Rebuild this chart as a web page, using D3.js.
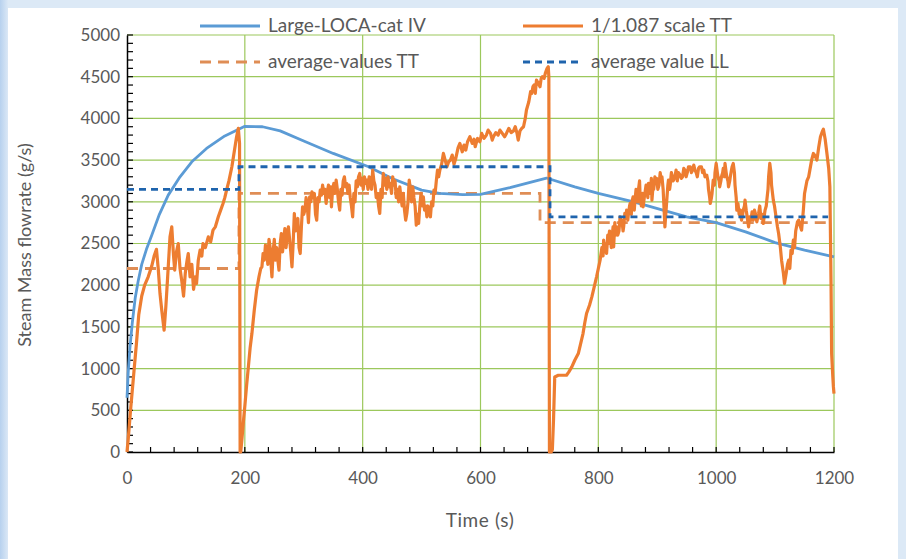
<!DOCTYPE html>
<html>
<head>
<meta charset="utf-8">
<script src="https://cdn.jsdelivr.net/npm/d3@7"></script>
<style>
  body { margin: 0; background: #dce9f6; }
  svg { display: block; }
  text { font-family: Lato, "Open Sans", sans-serif; fill: #595959; }
</style>
</head>
<body>
<svg id="chart" width="906" height="559"></svg>
<script>
// Large-LOCA-cat IV (blue solid)
var llTime = [0,2,5,9,14,19,25,33,42,55,70,90,110,135,166,200,230,260,300,350,410,450,500,530,570,600,650,712,760,800,860,950,1000,1050,1100,1150,1200];
var llFlow = [650,950,1250,1550,1850,2050,2250,2430,2600,2850,3080,3300,3480,3640,3790,3905,3900,3850,3730,3580,3420,3280,3140,3100,3085,3090,3170,3285,3180,3100,3000,2820,2750,2640,2510,2420,2340];

// 1/1.087 scale TT (orange solid), read in three runs between the drops to zero
var ttTimeA = [0,2,6,11,16,20,25,30,36,42,46,50,53,56,59,63,66,69,73,76,79,81,84,87,90,93,96,99,102,104,107,110,113,116,118,121,124,127,129,133,138,142,146,150,155,159,163,166,169,173,178,182,186,189,191,192];
var ttFlowA = [0,150,500,900,1300,1650,1870,2000,2100,2230,2350,2430,2200,1900,1700,1460,1750,2100,2580,2700,2350,2180,2400,2500,2200,2050,1870,2150,2300,2380,2100,2250,1950,2100,2020,2300,2420,2350,2500,2450,2580,2520,2660,2700,2820,2900,2980,3050,3140,3250,3420,3600,3780,3880,3700,0];

var ttTimeB = [193,195,198,200,203,206,209,212,216,220,
  224,227,229,231,233,235,237,239,241,243,
  244,246,248,250,252,254,256,258,260,262,
  264,266,268,270,272,274,276,278,280,282,
  284,286,288,290,292,294,296,298,300,302,
  304,306,308,310,312,314,316,318,320,322,
  324,326,328,330,332,334,336,338,340,342,
  344,346,347,349,351,353,355,357,359,361,
  363,365,367,369,371,373,375,377,379,381,
  383,385,387,389,391,393,395,397,399,401,
  403,405,407,409,411,413,415,417,419,421,
  423,425,427,429,431,433,435,437,439,441,
  443,445,447,449,451,453,455,457,459,461,
  463,465,467,469,471,473,475,477,479,481,
  483,485,487,489,491,493,495,497,499,501,
  503,505,507,509,511,513,515,517,519,521,
  523,525,527,529,531,534,537,540,543,546,
  549,552,555,558,562,565,569,572,575,578,
  582,586,589,591,595,599,602,606,610,613,
  617,620,622,626,630,633,637,641,644,648,
  652,656,659,662,664,667,670,673,676,678,
  682,685,687,689,691,693,695,698,701,703,
  705,708,710,713,715,716,717];
var ttFlowB = [0,150,400,550,800,1020,1250,1420,1700,1940,
  2100,2200,2220,2380,2300,2480,2460,2250,2550,2450,
  2300,2100,2400,2550,2300,2450,2300,2180,2500,2620,
  2400,2550,2680,2450,2600,2700,2550,2400,2220,2500,
  2860,2650,2700,2800,2450,2380,2700,2940,2850,2900,
  3050,2950,2750,3060,3000,3120,3050,3100,2850,2780,
  3050,3000,3140,3080,3200,3100,3150,2980,3120,3200,
  3050,3180,2940,3150,3220,3100,3260,3150,3000,2900,
  3150,3080,3250,3300,3180,3220,3100,3200,3050,2950,
  2820,3100,3000,3250,3180,3300,3340,3200,3280,3150,
  3300,3220,3260,3150,3300,3250,3150,3380,3250,3200,
  3050,3100,2950,2860,3150,3050,3340,3200,3280,3150,
  3300,3180,3220,3100,3300,3200,3250,3050,3150,3000,
  3180,3050,2950,3100,2900,2780,2860,3000,3260,3150,
  3000,3180,3050,2950,2720,2850,2740,2950,3100,2950,
  3060,2900,2950,2820,2950,2880,2820,3000,2950,3140,
  3100,3250,3380,3300,3380,3450,3580,3500,3420,3480,
  3500,3560,3450,3520,3650,3700,3600,3680,3620,3720,
  3780,3700,3750,3660,3760,3720,3820,3760,3800,3860,
  3820,3740,3780,3830,3800,3860,3820,3780,3820,3880,
  3830,3850,3900,3820,3740,3850,3880,3900,4000,4100,
  4200,4320,4300,4380,4400,4300,4460,4420,4380,4480,
  4500,4480,4540,4600,4620,4500,0];

var ttTimeC = [720,722,724,726,732,740,746,750,755,760,
  766,770,774,777,780,785,789,793,797,800,
  803,806,808,809,811,813,814,816,817,819,
  820,822,823,825,826,828,829,831,833,835,
  837,838,840,842,843,845,847,848,850,851,
  853,854,856,857,859,861,862,864,865,867,
  868,870,871,873,875,876,878,879,881,882,
  884,885,887,888,890,891,893,894,896,897,
  899,901,903,905,906,908,910,911,913,915,
  916,918,919,921,922,924,925,927,930,932,
  934,936,939,941,943,945,947,949,951,953,
  956,958,960,962,964,966,968,970,972,975,
  977,979,981,984,986,987,989,990,992,993,
  995,997,998,1000,1002,1003,1005,1006,1008,1009,
  1011,1012,1014,1015,1017,1018,1020,1021,1023,1024,
  1026,1027,1029,1031,1032,1034,1035,1037,1039,1041,
  1043,1045,1046,1048,1049,1051,1052,1054,1055,1057,
  1059,1061,1063,1065,1067,1069,1072,1074,1076,1078,
  1080,1082,1083,1085,1086,1088,1089,1091,1093,1094,
  1097,1099,1101,1104,1106,1109,1111,1114,1116,1119,
  1121,1123,1125,1127,1129,1131,1133,1135,1138,1140,
  1143,1145,1148,1150,1154,1157,1159,1162,1165,1168,
  1171,1174,1177,1180,1182,1185,1188,1191,1193,1195,
  1196,1198,1199,1200];
var ttFlowC = [0,30,400,900,920,920,920,960,1020,1100,
  1180,1300,1420,1550,1660,1760,1860,1980,2100,2200,
  2300,2450,2350,2540,2400,2500,2380,2600,2500,2650,
  2620,2450,2550,2700,2460,2750,2600,2700,2600,2650,
  2820,2780,2780,2650,2700,2860,2800,2900,2780,2850,
  2950,2980,2850,3000,3060,2900,3000,3150,3100,3000,
  3140,3250,3050,2950,3100,2940,3050,3100,3200,3180,
  3050,3220,3150,3100,3280,3020,3200,3150,3300,3250,
  3280,3150,3200,3350,3300,3300,3150,3000,2700,2900,
  3000,3200,3260,3150,3200,3350,3320,3250,3300,3380,
  3250,3350,3320,3280,3300,3400,3380,3300,3350,3420,
  3420,3350,3380,3440,3380,3350,3300,3400,3420,3420,
  3350,3380,3300,3320,3250,3150,3050,2980,3050,3100,
  3260,3200,3350,3460,3350,3300,3250,3180,3250,3300,
  3350,3400,3300,3460,3350,3300,3250,3180,3250,3300,
  3380,3420,3460,3350,3200,3050,2900,2980,2850,2900,
  2780,2850,2900,2950,3020,2900,2850,2750,2700,2820,
  2780,2880,2780,2900,2850,2760,2860,2950,2800,2850,
  2740,2850,2900,2950,3020,3150,3300,3460,3350,3200,
  3020,2950,2850,2700,2620,2450,2300,2150,2020,2150,
  2250,2300,2200,2420,2380,2540,2450,2650,2760,2780,
  2700,2660,2900,3100,3250,3300,3380,3500,3580,3550,
  3500,3650,3780,3840,3870,3750,3580,3400,3180,2000,
  1180,900,780,700];

// average-values TT (orange dashed) and average value LL (blue dashed)
var avgTTTime = [0,190,190,701,701,1190];
var avgTTFlow = [2200,2200,3100,3100,2750,2750];
var avgLLTime = [0,190,190,718,718,1190];
var avgLLFlow = [3150,3150,3420,3420,2820,2820];

var xTicks = [0,200,400,600,800,1000,1200];
var yTicks = [0,500,1000,1500,2000,2500,3000,3500,4000,4500,5000];

var svg = d3.select("#chart");

// background panel
var grad = svg.append("defs").append("linearGradient").attr("id", "side");
grad.append("stop").attr("offset", "0%").attr("stop-color", "#b7d1ee");
grad.append("stop").attr("offset", "100%").attr("stop-color", "#dbe8f6");
svg.append("rect").attr("width", 906).attr("height", 559).attr("fill", "#dce9f6");
svg.append("rect").attr("x", 0).attr("y", 0).attr("width", 8).attr("height", 559).attr("fill", "url(#side)");
svg.append("rect").attr("x", 8).attr("y", 8).attr("width", 890).attr("height", 551).attr("fill", "#ffffff");

var x = d3.scaleLinear().domain([0, 1200]).range([127, 834]);
var y = d3.scaleLinear().domain([0, 5000]).range([452, 35]);

// grid
var grid = svg.append("g").attr("stroke", "#9cc85c").attr("stroke-width", 1.2);
grid.selectAll(".gx").data(xTicks.slice(1)).enter().append("line")
  .attr("x1", d => x(d)).attr("x2", d => x(d)).attr("y1", y(0)).attr("y2", y(5000));
grid.selectAll(".gy").data(yTicks.slice(1)).enter().append("line")
  .attr("x1", x(0)).attr("x2", x(1200)).attr("y1", d => y(d)).attr("y2", d => y(d));

// axes
var axFont = "17px";
var xAxis = svg.append("g").attr("transform", "translate(0," + y(0) + ")")
  .call(d3.axisBottom(x).tickValues(xTicks).tickSize(0).tickPadding(20).tickFormat(d3.format("d")));
var yAxis = svg.append("g").attr("transform", "translate(" + x(0) + ",0)")
  .call(d3.axisLeft(y).tickValues(yTicks).tickSize(0).tickPadding(7).tickFormat(d3.format("d")));
[xAxis, yAxis].forEach(function (g) {
  g.select(".domain").attr("stroke", "#000").attr("stroke-width", 1.5);
  g.selectAll("text").style("font-size", axFont).attr("fill", "#595959");
});

// minor ticks pointing into the plot
var minorX = d3.range(0, 1201, 40), minorY = d3.range(0, 5001, 100);
svg.append("g").attr("stroke", "#000").attr("stroke-width", 1.2)
  .selectAll("line").data(minorX).enter().append("line")
  .attr("x1", d => x(d)).attr("x2", d => x(d)).attr("y1", y(0)).attr("y2", y(0) - 5);
svg.append("g").attr("stroke", "#000").attr("stroke-width", 1.2)
  .selectAll("line").data(minorY).enter().append("line")
  .attr("x1", x(0)).attr("x2", x(0) + 6).attr("y1", d => y(d)).attr("y2", d => y(d));

// series
function line(ts, vs) {
  return d3.line().x(function (d) { return x(d[0]); }).y(function (d) { return y(d[1]); })(d3.zip(ts, vs));
}
var ttTime = ttTimeA.concat(ttTimeB, ttTimeC);
var ttFlow = ttFlowA.concat(ttFlowB, ttFlowC);

svg.append("path").attr("d", line(avgTTTime, avgTTFlow)).attr("fill", "none")
  .attr("stroke", "#df8d55").attr("stroke-width", 2.8).attr("stroke-dasharray", "11,7");
svg.append("path").attr("d", line(llTime, llFlow)).attr("fill", "none")
  .attr("stroke", "#5b9bd5").attr("stroke-width", 2.8).attr("stroke-linejoin", "round");
svg.append("path").attr("d", line(ttTime, ttFlow)).attr("fill", "none")
  .attr("stroke", "#ed7d31").attr("stroke-width", 3.2).attr("stroke-linejoin", "round");
svg.append("path").attr("d", line(avgLLTime, avgLLFlow)).attr("fill", "none")
  .attr("stroke", "#1f64ad").attr("stroke-width", 2.8).attr("stroke-dasharray", "7,5");

// legend
var legend = [
  { name: "Large-LOCA-cat IV", color: "#5b9bd5", dash: null, lx: 200, ly: 26 },
  { name: "1/1.087 scale TT", color: "#ed7d31", dash: null, lx: 523, ly: 26 },
  { name: "average-values TT", color: "#df8d55", dash: "11,7", lx: 200, ly: 62 },
  { name: "average value LL", color: "#1f64ad", dash: "7,5", lx: 523, ly: 62 }
];
var lg = svg.append("g");
legend.forEach(function (d) {
  lg.append("line").attr("x1", d.lx).attr("x2", d.lx + 60).attr("y1", d.ly).attr("y2", d.ly)
    .attr("stroke", d.color).attr("stroke-width", 3).attr("stroke-dasharray", d.dash);
  lg.append("text").attr("x", d.lx + 68).attr("y", d.ly + 6).style("font-size", "19px").text(d.name);
});

// axis titles
svg.append("text").attr("x", 480).attr("y", 527).attr("text-anchor", "middle").style("font-size", "19px")
  .style("letter-spacing", "0.6px").text("Time (s)");
svg.append("text").attr("transform", "translate(31,245) rotate(-90)").attr("text-anchor", "middle")
  .style("font-size", "18px").text("Steam Mass flowrate (g/s)");
</script>
</body>
</html>
